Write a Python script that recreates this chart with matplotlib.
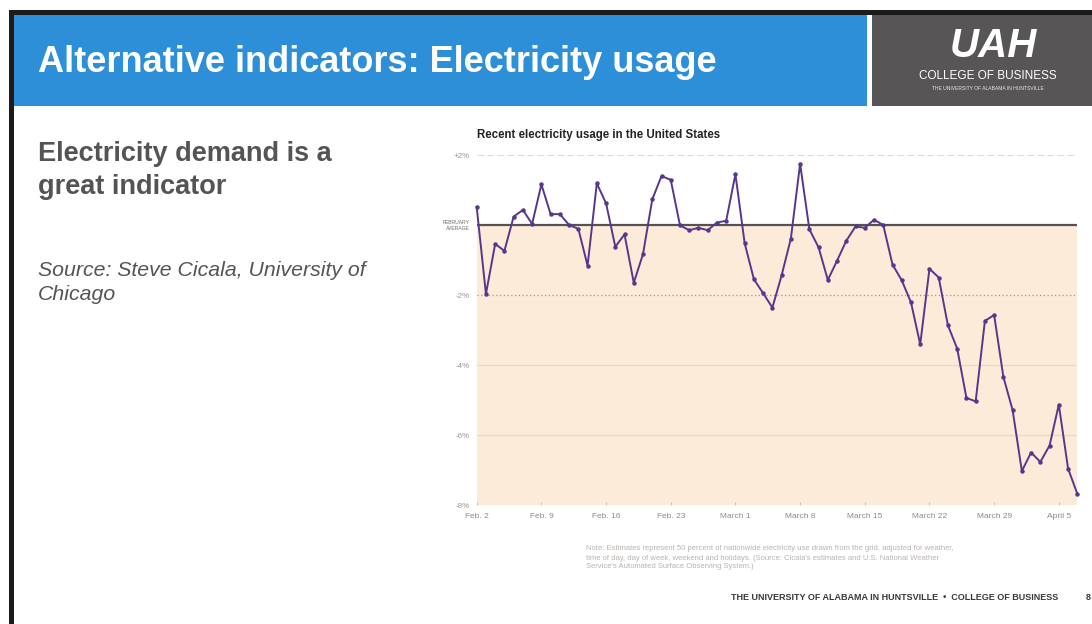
import matplotlib
matplotlib.use("Agg")
import matplotlib.pyplot as plt
import matplotlib.dates as mdates
from matplotlib.patches import Rectangle
import pandas as pd

plt.rcParams['font.family'] = ['Liberation Sans', 'DejaVu Sans']

# ---------------- data ----------------
start_date = "2020-02-02"
usage_pct = [
    0.51, -1.97, -0.54, -0.74, 0.24, 0.43, 0.03, 1.16, 0.31, 0.31,
    0.00, -0.11, -1.16, 1.19, 0.62, -0.62, -0.27, -1.65, -0.83, 0.73,
    1.40, 1.29, -0.01, -0.15, -0.08, -0.15, 0.07, 0.12, 1.45, -0.52,
    -1.55, -1.95, -2.36, -1.44, -0.39, 1.75, -0.12, -0.64, -1.57, -1.02,
    -0.45, -0.04, -0.08, 0.15, 0.00, -1.13, -1.58, -2.21, -3.41, -1.25,
    -1.50, -2.87, -3.53, -4.94, -5.04, -2.74, -2.57, -4.34, -5.29, -7.03,
    -6.50, -6.77, -6.30, -5.13, -6.96, -7.68,
]
dates = pd.date_range(start_date, periods=len(usage_pct), freq="D")
x_tick_labels = ["Feb. 2", "Feb. 9", "Feb. 16", "Feb. 23", "March 1",
                 "March 8", "March 15", "March 22", "March 29", "April 5"]
y_tick_values = [2, 0, -2, -4, -6, -8]
y_tick_labels = ["+2%", "FEBRUARY\nAVERAGE", "-2%", "-4%", "-6%", "-8%"]

W, H = 1092, 624
fig = plt.figure(figsize=(W / 100, H / 100), dpi=100)
fig.patch.set_facecolor("white")

# ---------------- slide background (pixel coordinates) ----------------
bg = fig.add_axes([0, 0, 1, 1])
bg.set_xlim(0, W)
bg.set_ylim(H, 0)
bg.axis("off")

bg.add_patch(Rectangle((9, 10), W - 9, 5, color="#1c1a1b", lw=0))
bg.add_patch(Rectangle((9, 10), 4.5, H - 10, color="#1c1a1b", lw=0))
bg.add_patch(Rectangle((13.5, 15), 853, 91, color="#2d8fd7", lw=0))
bg.add_patch(Rectangle((872, 15), W - 872, 91, color="#585556", lw=0))

bg.text(38, 63, "Alternative indicators: Electricity usage", color="white",
        fontsize=26, fontweight="bold", va="center", ha="left")

# logo
bg.text(993, 46, "UAH", color="white", fontsize=29, fontweight="bold",
        style="italic", ha="center", va="center")
bg.text(988, 76, "COLLEGE OF BUSINESS", color="white", fontsize=8.5,
        ha="center", va="center")
bg.text(988, 88, "THE UNIVERSITY OF ALABAMA IN HUNTSVILLE", color="#e8e8e8",
        fontsize=3.6, ha="center", va="center")

bg.text(38, 154, "Electricity demand is a", color="#555353", fontsize=19.5,
        fontweight="bold", va="center")
bg.text(38, 187, "great indicator", color="#555353", fontsize=19.5,
        fontweight="bold", va="center")
bg.text(38, 270, "Source: Steve Cicala, University of", color="#555353",
        fontsize=15.3, style="italic", va="center")
bg.text(38, 295, "Chicago", color="#555353", fontsize=15.3, style="italic",
        va="center")

note_lines = [
    "Note: Estimates represent 50 percent of nationwide electricity use drawn from the grid, adjusted for weather,",
    "time of day, day of week, weekend and holidays. (Source: Cicala's estimates and U.S. National Weather",
    "Service's Automated Surface Observing System.)",
]
for i, line in enumerate(note_lines):
    bg.text(586, 549 + 9 * i, line, color="#b8b3b0", fontsize=5.5, va="center")

bg.text(1058, 597, "THE UNIVERSITY OF ALABAMA IN HUNTSVILLE  \u2022  COLLEGE OF BUSINESS",
        color="#3a3838", fontsize=6.5, fontweight="bold", ha="right", va="center")
bg.text(1086, 597, "8", color="#3a3838", fontsize=6.5, fontweight="bold",
        ha="left", va="center")

bg.text(477, 135, "Recent electricity usage in the United States", color="#222222",
        fontsize=8.3, fontweight="bold", va="center", ha="left")

# ---------------- chart ----------------
left_px, right_px, top_px, bottom_px = 476.7, 1077.3, 155.0, 505.0
ax = fig.add_axes([left_px / W, 1 - bottom_px / H,
                   (right_px - left_px) / W, (bottom_px - top_px) / H])
ax.set_facecolor("none")
ax.set_xlim(dates[0], dates[-1])
ax.set_ylim(-8, 2)

ax.axhspan(-8, 0, color="#fcebd8", lw=0, zorder=0)
ax.axhline(2, color="#dcdcdc", lw=0.8, ls=(0, (6, 3)), zorder=1)
ax.axhline(-2, color="#9a9696", lw=0.9, ls=(0, (1, 2)), zorder=1)
for yv in (-4, -6):
    ax.axhline(yv, color="#ead8c6", lw=0.9, zorder=1)
ax.axhline(-8, color="#e2d4c6", lw=0.6, ls=(0, (1, 2)), zorder=1)
ax.axhline(0, color="#555252", lw=1.6, zorder=2)

ax.plot(dates, usage_pct, color="#56378c", lw=1.4, marker="o", ms=2.2,
        zorder=3, clip_on=False)

for s in ax.spines.values():
    s.set_visible(False)

ax.set_xticks(dates[::7])
ax.set_xticklabels(x_tick_labels)
ax.tick_params(axis="x", length=2.5, width=0.6, color="#bbbbbb", pad=6,
               labelsize=6.0, labelcolor="#8e8a88", direction="in")
ax.set_yticks(y_tick_values)
ax.set_yticklabels(y_tick_labels)
ax.tick_params(axis="y", length=0, pad=5, labelsize=5.8, labelcolor="#9a9694")
for lab, val in zip(ax.get_yticklabels(), y_tick_values):
    if val == 0:
        lab.set_fontsize(3.6)
        lab.set_color("#6e6a68")
        lab.set_horizontalalignment("right")
        lab.set_multialignment("right")

fig.savefig("out.png", dpi=100)
